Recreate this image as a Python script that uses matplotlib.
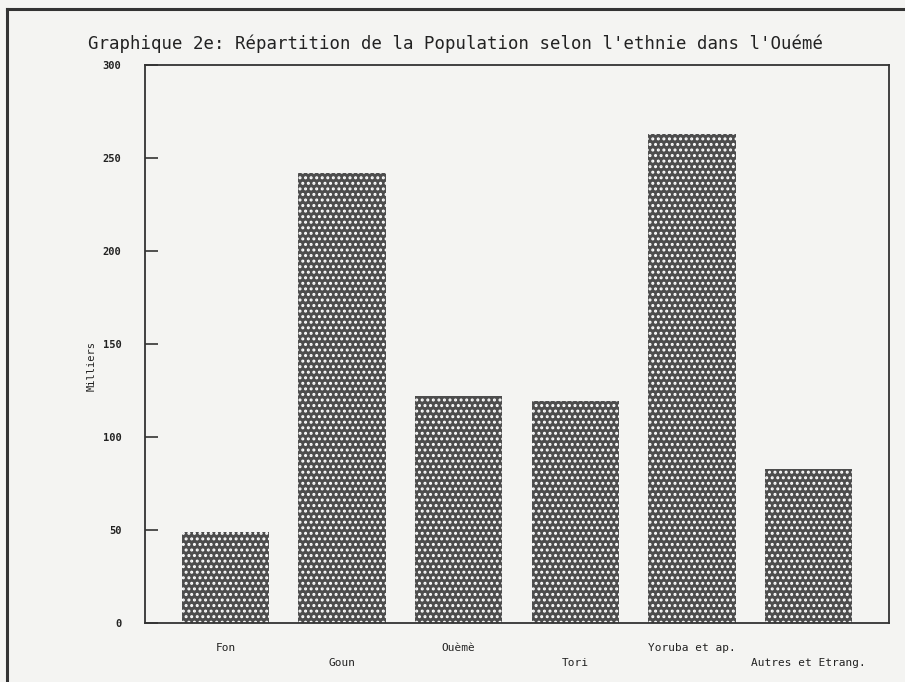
import matplotlib.pyplot as plt
from matplotlib.lines import Line2D

# Données (milliers d'habitants)
ethnies = ["Fon", "Goun", "Ouèmè", "Tori", "Yoruba et ap.", "Autres et Etrang."]
population = [49, 242, 122, 119.5, 263, 83]
yticks = [0, 50, 100, 150, 200, 250, 300]

plt.rcParams["font.family"] = ["DejaVu Sans Mono", "DejaVu Sans"]
plt.rcParams["hatch.color"] = "white"
plt.rcParams["hatch.linewidth"] = 1.4

fig = plt.figure(figsize=(9.05, 6.82), dpi=100)
fig.patch.set_facecolor("#f4f4f2")
ax = fig.add_axes([0.1602, 0.0865, 0.8221, 0.8182])
ax.set_facecolor("#f4f4f2")

x = list(range(len(ethnies)))
ax.bar(x, population, width=0.75, color="#4d4d4d", edgecolor="white",
       linewidth=0, hatch="...")

ax.set_xlim(-0.69, len(ethnies) - 0.31)
ax.set_ylim(0, 300)
ax.set_yticks(yticks)
ax.set_yticklabels([str(v) for v in yticks], fontsize=7.5, color="#222222",
                   fontweight="bold")
ax.tick_params(axis="y", direction="in", length=9, width=1.2, pad=17,
               color="#333333")
ax.set_xticks([])
for s in ax.spines.values():
    s.set_linewidth(1.3)
    s.set_color("#333333")

# étiquettes en quinconce
for i, lab in enumerate(ethnies):
    yy = -0.045 if i % 2 == 0 else -0.072
    ax.text(i, yy, lab, transform=ax.get_xaxis_transform(), ha="center",
            va="center", fontsize=8, color="#222222")

ax.text(-0.072, 0.46, "Milliers", transform=ax.transAxes, rotation=90,
        ha="center", va="center", fontsize=7.5, color="#222222")

fig.text(88 / 905, 1 - 44 / 682,
         "Graphique 2e: Répartition de la Population selon l'ethnie dans l'Ouémé",
         ha="left", va="center", fontsize=12.5, color="#222222")

# cadre de la page
fig.add_artist(Line2D([7 / 905, 7 / 905], [0, 1 - 9 / 682], color="#333333",
                      linewidth=2.2, transform=fig.transFigure))
fig.add_artist(Line2D([7 / 905, 1], [1 - 9 / 682, 1 - 9 / 682], color="#333333",
                      linewidth=2.2, transform=fig.transFigure))

fig.savefig("out.png", dpi=100, facecolor=fig.get_facecolor())
